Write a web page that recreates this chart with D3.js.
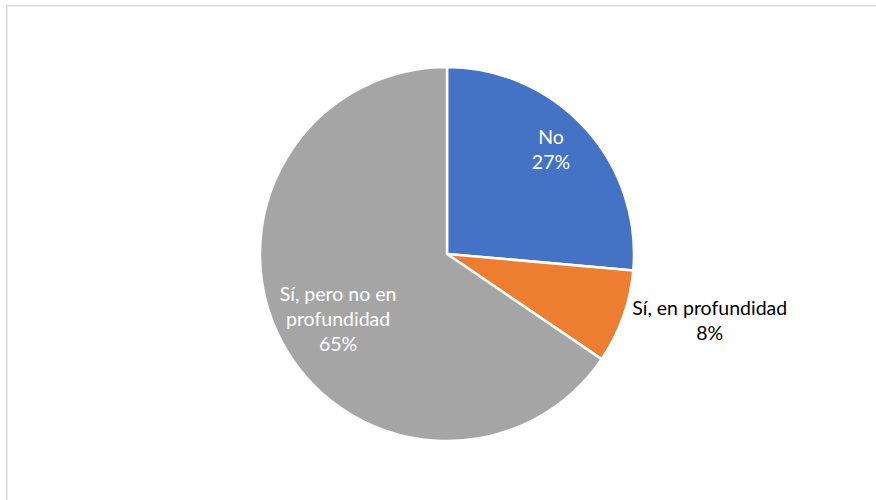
<!DOCTYPE html>
<html>
<head>
<meta charset="utf-8">
<script src="https://cdn.jsdelivr.net/npm/d3@7"></script>
<style>
  html, body { margin: 0; padding: 0; background: #fff; }
  svg { display: block; }
</style>
</head>
<body>
<svg id="chart" width="876" height="500"></svg>
<script>
const categories = ["No", "Sí, en profundidad", "Sí, pero no en profundidad"];
const values = [26.4, 8.1, 65.5];
const percentLabels = ["27%", "8%", "65%"];
const labelLines = [["No"], ["Sí, en profundidad"], ["Sí, pero no en", "profundidad"]];
const colors = ["#4472C4", "#ED7D31", "#A5A5A5"];
const labelColors = ["#ffffff", "#000000", "#ffffff"];

const svg = d3.select("#chart");

svg.append("rect")
  .attr("x", 6.75).attr("y", 5.75)
  .attr("width", 950).attr("height", 600)
  .attr("fill", "#fff")
  .attr("stroke", "#d9d9d9")
  .attr("stroke-width", 1.5);

const cx = 447, cy = 254, r = 187;
const g = svg.append("g").attr("transform", `translate(${cx},${cy})`);

const data = categories.map((c, i) => ({ name: c, value: values[i], i }));
const pie = d3.pie().value(d => d.value).sort(null);
const arc = d3.arc().innerRadius(0).outerRadius(r);
const arcs = pie(data);

g.selectAll("path.slice")
  .data(arcs)
  .join("path")
  .attr("class", "slice")
  .attr("d", arc)
  .attr("fill", d => colors[d.data.i])
  .attr("stroke", "#fff")
  .attr("stroke-width", 2.5)
  .attr("stroke-linejoin", "round");

// label placement: radial factor and angle shift (degrees) from slice mid-angle
const labelRadius = [0.786, 1.45, 0.681];
const labelShift = [-2.5, -5.3, -3.3];
const lineH = 25;
const fontFamily = "Lato, 'Liberation Sans', sans-serif";

arcs.forEach(a => {
  const i = a.data.i;
  const mid = (a.startAngle + a.endAngle) / 2 + labelShift[i] * Math.PI / 180;
  const rr = r * labelRadius[i];
  const lx = Math.sin(mid) * rr;
  const ly = -Math.cos(mid) * rr;
  const lines = labelLines[i].concat([percentLabels[i]]);
  const totalH = (lines.length - 1) * lineH;
  const t = g.append("text")
    .attr("text-anchor", "middle")
    .attr("font-family", fontFamily)
    .attr("font-size", 19.5)
    .attr("fill", labelColors[i]);
  lines.forEach((ln, k) => {
    t.append("tspan")
      .attr("x", lx)
      .attr("y", ly - totalH / 2 + k * lineH + 6)
      .text(ln);
  });
});
</script>
</body>
</html>
